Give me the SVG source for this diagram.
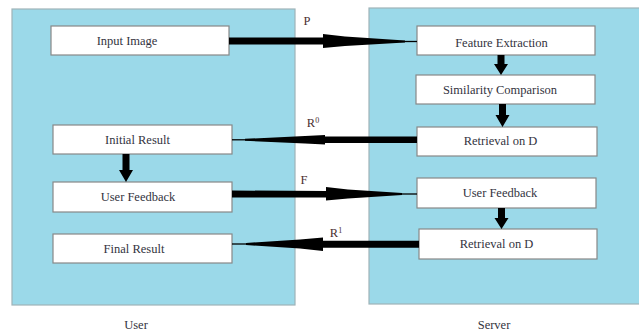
<svg xmlns="http://www.w3.org/2000/svg" width="639" height="331" viewBox="0 0 639 331">
<style>
.panel{fill:#9bd9e9;stroke:#9fb3b8;stroke-width:1.2}
.box{fill:#ffffff;stroke:#888888;stroke-width:1.2}
text{font-family:'Liberation Serif','Times New Roman','DejaVu Serif',serif;font-size:12.5px}
.t{fill:#333340;text-anchor:middle}
.lbl{fill:#4a3030;text-anchor:middle}
.arr{fill:#000000}
.thin{stroke:#000000;stroke-width:1.3;fill:none}
</style>
<g id="panel-user"><rect class="panel" x="12" y="9" width="283" height="296"/></g>
<g id="panel-server"><rect class="panel" x="369" y="8" width="272" height="296"/></g>

<g id="input-image"><rect class="box" x="51" y="26" width="178" height="29"/><text class="t" x="127" y="45">Input Image</text></g>
<g id="initial-result"><rect class="box" x="53" y="125" width="179" height="29"/><text class="t" x="137.5" y="143.5">Initial Result</text></g>
<g id="user-feedback-user"><rect class="box" x="53" y="182" width="179" height="30"/><text class="t" x="138" y="200.5">User Feedback</text></g>
<g id="final-result"><rect class="box" x="53" y="234" width="179" height="29"/><text class="t" x="134" y="252.5">Final Result</text></g>

<g id="feature-extraction"><rect class="box" x="417" y="26" width="178" height="29"/><text class="t" x="501.5" y="47">Feature Extraction</text></g>
<g id="similarity-comparison"><rect class="box" x="416" y="75" width="179" height="29"/><text class="t" x="500" y="94">Similarity Comparison</text></g>
<g id="retrieval-1"><rect class="box" x="417" y="127" width="180" height="29"/><text class="t" x="500.5" y="144.5">Retrieval on D</text></g>
<g id="user-feedback-server"><rect class="box" x="417" y="178" width="179" height="30"/><text class="t" x="500" y="197">User Feedback</text></g>
<g id="retrieval-2"><rect class="box" x="419" y="229" width="178" height="30"/><text class="t" x="496.5" y="247.5">Retrieval on D</text></g>

<g id="captions">
<text class="t" x="136" y="329">User</text>
<text class="t" x="494" y="329">Server</text>
</g>

<g id="connectors">
<path class="arr" d="M229,37.5 L323,37.5 L323,34 L345,36.5 L405,40.5 L405,42.5 L345,46 L323,48 L323,44.5 L229,44.5 Z"/>
<line class="thin" x1="400" y1="41.5" x2="417" y2="41.5"/>
<text class="lbl" x="307" y="25">P</text>
<path class="arr" d="M417,136.5 L325,136.5 L325,135 L305,136 L245,138.8 L245,140.8 L305,143.5 L325,144.5 L325,143 L417,143 Z"/>
<line class="thin" x1="232" y1="139.8" x2="250" y2="139.8"/>
<text class="lbl" x="313" y="127">R<tspan font-size="8" dy="-4">0</tspan></text>
<path class="arr" d="M232,190.5 L326,191 L326,187 L348,189.5 L402,193 L402,195 L348,198.5 L326,200.5 L326,197.5 L232,197.5 Z"/>
<line class="thin" x1="398" y1="194" x2="417" y2="194"/>
<text class="lbl" x="304" y="184">F</text>
<path class="arr" d="M419,240.8 L323,240.8 L323,237.5 L300,239.5 L246,243 L246,245 L300,248.5 L323,251 L323,247.8 L419,247.8 Z"/>
<line class="thin" x1="232" y1="244" x2="250" y2="244"/>
<text class="lbl" x="336" y="237">R<tspan font-size="8" dy="-4">1</tspan></text>
<path class="arr" d="M497.5,55 L504.5,55 L504.5,64 L508,64 L501,75 L494,64 L497.5,64 Z"/>
<path class="arr" d="M499,104 L506,104 L506,115 L509.5,115 L502.5,127 L495.5,115 L499,115 Z"/>
<path class="arr" d="M122.5,154 L129.5,154 L129.5,170 L133,170 L126,182 L119,170 L122.5,170 Z"/>
<path class="arr" d="M498,208 L505,208 L505,218 L508.5,218 L501.5,229 L494.5,218 L498,218 Z"/>
</g>
</svg>
